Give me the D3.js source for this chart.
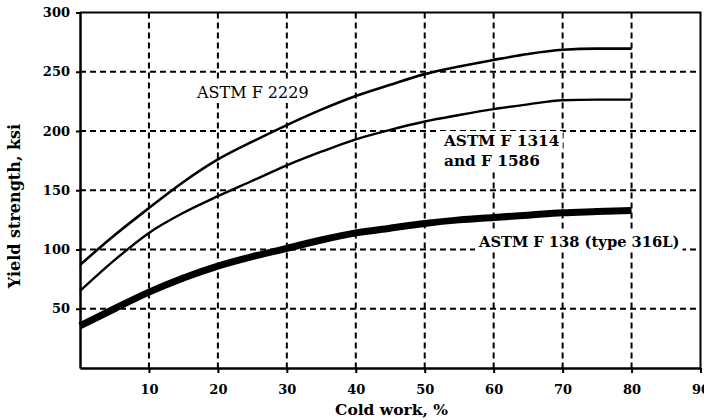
<!DOCTYPE html>
<html>
<head>
<meta charset="utf-8">
<script src="https://cdn.jsdelivr.net/npm/d3@7.9.0/dist/d3.min.js"></script>
<style>
  body { margin: 0; background: #fff; }
  svg { display: block; font-family: 'DejaVu Serif', serif; }
</style>
</head>
<body>
<svg id="chart"></svg>
<script>
// cold work (%) sampled every 5
const coldWork = [0, 5, 10, 15, 20, 25, 30, 35, 40, 45, 50, 55, 60, 65, 70, 75, 80];

// yield strength, ksi
const f2229 = [87, 112, 135, 157, 176, 191, 205, 218, 229.5, 239, 248, 254.5, 260, 265, 268.5, 269.5, 269.5];
const f1314 = [65, 91, 114, 131, 145, 158, 171, 182.5, 193, 201, 208, 213.5, 218.5, 222.5, 226, 226.5, 226.5];
const f138 = [35.5, 50, 64, 76, 86, 94, 101, 108, 114, 118, 122, 125, 127, 129, 131, 132, 133];

const xTicks = [10, 20, 30, 40, 50, 60, 70, 80, 90];
const yTicks = [50, 100, 150, 200, 250, 300];

const width = 704;
const height = 420;
const margin = { top: 12.5, right: 3.5, bottom: 52, left: 80 };

const svg = d3.select('#chart').attr('width', width).attr('height', height);

const x = d3.scaleLinear().domain([0, 90]).range([margin.left, width - margin.right]);
const y = d3.scaleLinear().domain([0, 300]).range([height - margin.bottom, margin.top]);

// dashed grid
svg.append('g')
  .selectAll('line')
  .data(xTicks.filter((d) => d < 90))
  .join('line')
  .attr('x1', (d) => x(d)).attr('x2', (d) => x(d))
  .attr('y1', y(300)).attr('y2', y(0))
  .attr('stroke', '#000').attr('stroke-width', 2).attr('stroke-dasharray', '6,4');

svg.append('g')
  .selectAll('line')
  .data(yTicks.filter((d) => d < 300))
  .join('line')
  .attr('x1', x(0)).attr('x2', x(90))
  .attr('y1', (d) => y(d)).attr('y2', (d) => y(d))
  .attr('stroke', '#000').attr('stroke-width', 2).attr('stroke-dasharray', '6,4');

// frame top and right
svg.append('path')
  .attr('d', `M${x(0)},${y(300)}H${x(90)}V${y(0)}`)
  .attr('fill', 'none').attr('stroke', '#000').attr('stroke-width', 2);

// axes
const xAxis = svg.append('g')
  .attr('transform', `translate(0,${y(0)})`)
  .call(d3.axisBottom(x).tickValues(xTicks).tickSize(5).tickPadding(12).tickSizeOuter(0));

const yAxis = svg.append('g')
  .attr('transform', `translate(${x(0)},0)`)
  .call(d3.axisLeft(y).tickValues(yTicks).tickSize(4).tickPadding(6).tickSizeOuter(0));

[xAxis, yAxis].forEach((g) => {
  g.select('.domain').attr('stroke', '#000').attr('stroke-width', 2.5);
  g.selectAll('.tick line').attr('stroke', '#000').attr('stroke-width', 2);
  g.selectAll('.tick text')
    .attr('fill', '#000')
    .style('font-family', 'DejaVu Serif')
    .style('font-size', '13px')
    .style('font-weight', 'bold');
});

// curves
const line = d3.line()
  .x((d, i) => x(coldWork[i]))
  .y((d) => y(d))
  .curve(d3.curveMonotoneX);

const series = [
  { values: f2229, w: 2.6 },
  { values: f1314, w: 2.4 },
  { values: f138, w: 7 },
];

svg.append('g')
  .selectAll('path')
  .data(series)
  .join('path')
  .attr('d', (d) => line(d.values))
  .attr('fill', 'none')
  .attr('stroke', '#000')
  .attr('stroke-width', (d) => d.w)
  .attr('stroke-linejoin', 'round');

// curve labels, with a white patch behind so the grid breaks around them
const labels = [
  { text: 'ASTM F 2229', x: 197, y: 98, weight: 'normal', size: 16 },
  { text: 'ASTM F 1314', x: 444, y: 146, weight: 'bold', size: 15.3 },
  { text: 'and F 1586', x: 444, y: 166, weight: 'bold', size: 15.3 },
  { text: 'ASTM F 138 (type 316L)', x: 479, y: 247, weight: 'bold', size: 14.7 },
];

const labelG = svg.append('g');
const bg = labelG.append('g');
const texts = labelG.selectAll('text')
  .data(labels)
  .join('text')
  .attr('x', (d) => d.x)
  .attr('y', (d) => d.y)
  .style('font-size', (d) => d.size + 'px')
  .style('font-weight', (d) => d.weight)
  .text((d) => d.text);

texts.each(function () {
  const b = this.getBBox();
  bg.append('rect')
    .attr('x', b.x - 3).attr('y', b.y - 1)
    .attr('width', b.width + 6).attr('height', b.height + 2)
    .attr('fill', '#fff');
});

// axis titles
svg.append('text')
  .attr('x', 391.5)
  .attr('y', 415)
  .attr('text-anchor', 'middle')
  .style('font-size', '15.5px')
  .style('font-weight', 'bold')
  .text('Cold work, %');

svg.append('text')
  .attr('transform', 'translate(20,206) rotate(-90)')
  .attr('text-anchor', 'middle')
  .style('font-size', '16px')
  .style('font-weight', 'bold')
  .text('Yield strength, ksi');
</script>
</body>
</html>
